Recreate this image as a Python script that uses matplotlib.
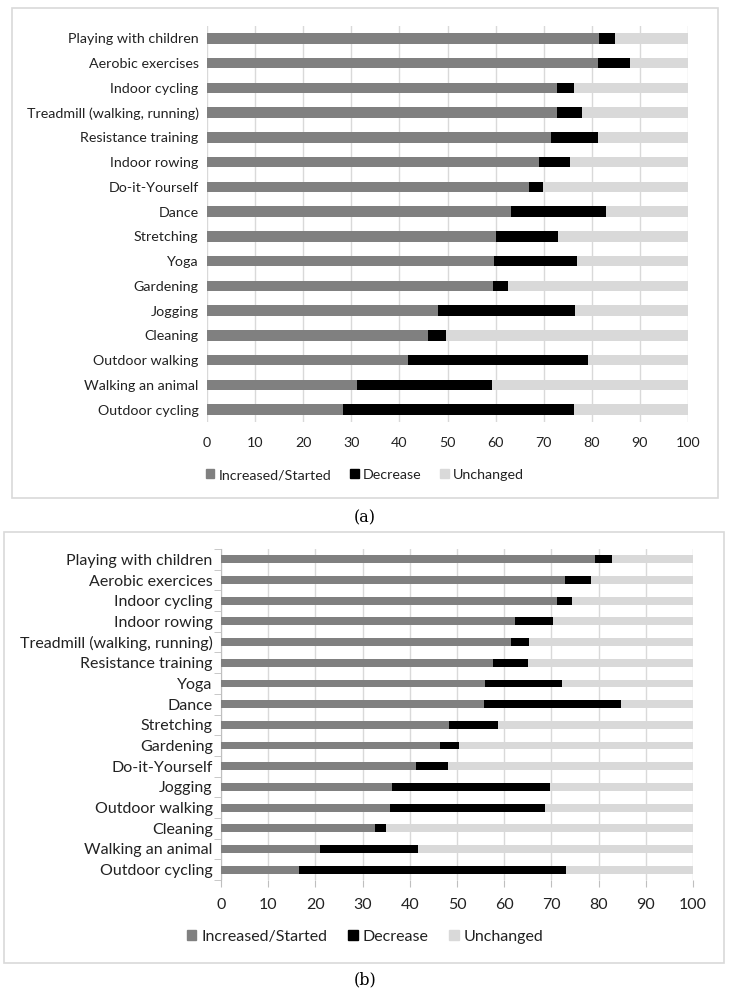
import matplotlib.pyplot as plt
import matplotlib.patches as mpatches
import numpy as np

plt.rcParams['font.family'] = ['Lato', 'DejaVu Sans']

# panel (a)
acts_a = ['Playing with children', 'Aerobic exercises', 'Indoor cycling',
          'Treadmill (walking, running)', 'Resistance training', 'Indoor rowing',
          'Do-it-Yourself', 'Dance', 'Stretching', 'Yoga', 'Gardening', 'Jogging',
          'Cleaning', 'Outdoor walking', 'Walking an animal', 'Outdoor cycling']
inc_a = [81.5, 81.3, 72.8, 72.7, 71.6, 69.0, 67.0, 63.3, 60.1, 59.7, 59.5, 48.0,
         46.0, 41.8, 31.1, 28.2]
dec_a = [3.4, 6.7, 3.5, 5.2, 9.6, 6.5, 2.8, 19.6, 12.8, 17.3, 3.0, 28.6,
         3.6, 37.4, 28.1, 48.0]

# panel (b)
acts_b = ['Playing with children', 'Aerobic exercices', 'Indoor cycling',
          'Indoor rowing', 'Treadmill (walking, running)', 'Resistance training',
          'Yoga', 'Dance', 'Stretching', 'Gardening', 'Do-it-Yourself', 'Jogging',
          'Outdoor walking', 'Cleaning', 'Walking an animal', 'Outdoor cycling']
inc_b = [79.3, 72.8, 71.1, 62.2, 61.4, 57.6, 55.9, 55.7, 48.4, 46.4, 41.4, 36.2,
         35.7, 32.6, 21.0, 16.5]
dec_b = [3.6, 5.5, 3.3, 8.2, 3.9, 7.4, 16.4, 29.1, 10.2, 4.1, 6.7, 33.5,
         32.9, 2.4, 20.7, 56.5]

series = ['Increased/Started', 'Decrease', 'Unchanged']
colors = ['#808080', '#000000', '#d9d9d9']

W, H = 734, 994
fig = plt.figure(figsize=(W / 100, H / 100), dpi=100)


def px_rect(l, t, r, b):
    return [l / W, 1 - b / H, (r - l) / W, (b - t) / H]


def box(l, t, r, b):
    fig.patches.append(mpatches.Rectangle((l / W, 1 - b / H), (r - l) / W, (b - t) / H,
                                          transform=fig.transFigure, fill=False,
                                          edgecolor='#d9d9d9', lw=1.2))


def panel(rect, acts, inc, dec, fs, h, ticks):
    ax = fig.add_axes(rect)
    inc = np.array(inc)
    dec = np.array(dec)
    unc = 100 - inc - dec
    y = np.arange(len(acts))
    ax.barh(y, inc, height=h, color=colors[0], zorder=3)
    ax.barh(y, dec, left=inc, height=h, color=colors[1], zorder=3)
    ax.barh(y, unc, left=inc + dec, height=h, color=colors[2], zorder=3)
    ax.set_ylim(len(acts) - 0.5, -0.5)
    ax.set_xlim(0, 100)
    ax.set_xticks(np.arange(0, 101, 10))
    ax.set_yticks(y)
    ax.set_yticklabels(acts, fontsize=fs, color='#222222')
    ax.tick_params(axis='x', labelsize=fs, colors='#222222')
    ax.grid(axis='x', color='#d9d9d9', lw=1, zorder=0)
    for s in ax.spines.values():
        s.set_visible(False)
    if ticks:
        ax.tick_params(axis='x', length=5, color='#bfbfbf', pad=8)
        ax.tick_params(axis='y', length=0, pad=6)
        ax.set_yticks(np.arange(-0.5, len(acts), 1), minor=True)
        ax.tick_params(axis='y', which='minor', length=5, color='#bfbfbf')
        ax.spines['left'].set_visible(True)
        ax.spines['left'].set_color('#bfbfbf')
    else:
        ax.tick_params(axis='both', length=0)
        ax.tick_params(axis='x', pad=11)
        ax.tick_params(axis='y', pad=6)
    return ax


box(12, 8, 718, 498)
box(4, 532, 724, 963)

panel(px_rect(207, 26, 688, 422), acts_a, inc_a, dec_a, 10.3, 0.42, False)
panel(px_rect(221, 549, 693, 880), acts_b, inc_b, dec_b, 11.5, 0.38, True)

handles = [mpatches.Patch(color=c) for c in colors]
for yy, fs in [(475, 10.3), (937, 11.5)]:
    fig.legend(handles, series, loc='center', bbox_to_anchor=(365 / W, 1 - yy / H),
               ncol=3, frameon=False, fontsize=fs, handlelength=0.6, handleheight=0.6,
               handletextpad=0.3, columnspacing=1.3, labelcolor='#222222')

fig.text(365 / W, 1 - 518 / H, '(a)', ha='center', va='center', fontsize=11.5,
         family='DejaVu Serif')
fig.text(365 / W, 1 - 980 / H, '(b)', ha='center', va='center', fontsize=11.5,
         family='DejaVu Serif')

fig.savefig('out.png', dpi=100)
